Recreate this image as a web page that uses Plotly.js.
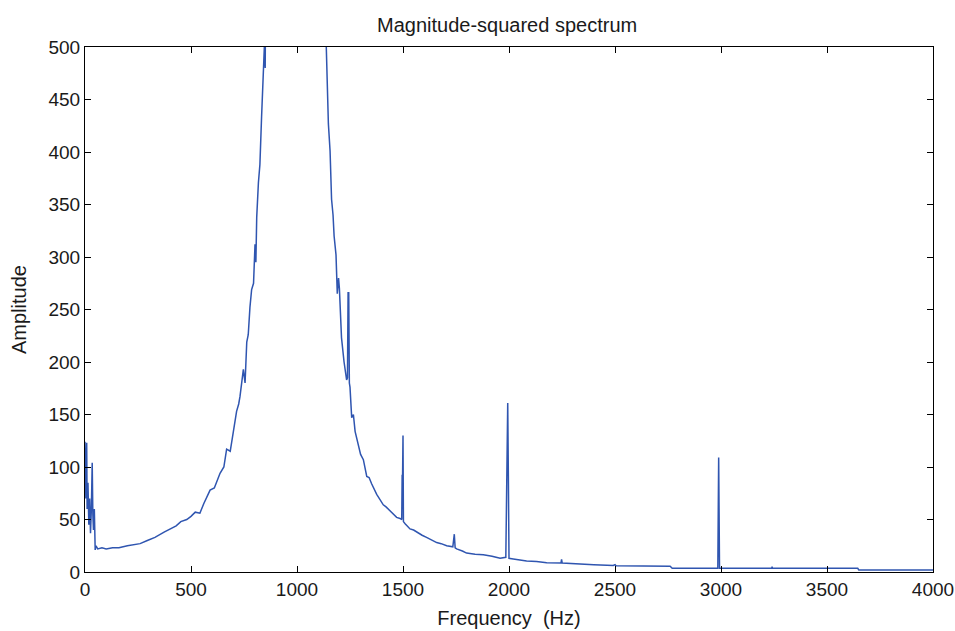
<!DOCTYPE html>
<html>
<head>
<meta charset="utf-8">
<script src="https://cdn.plot.ly/plotly-3.0.1.min.js"></script>
<style>html,body{margin:0;padding:0;background:#fff;}#chart{width:955px;height:631px;}</style>
</head>
<body>
<div id="chart"></div>
<script>
// Frequency (Hz) sample points
const freqHz = [0,4,8,10,14,18,22,26,30,34,37,40,44,48,52,60,80,100,130,160,200,230,260,294,330,373,400,430,452,480,500,520,542,560,590,610,637,655,668,685,700,715,725,731,747,755,763,770,778,786,795,802,806,810,818,825,833,841,846,850,855,880,920,960,1000,1040,1080,1110,1130,1137,1143,1148,1156,1163,1170,1175,1184,1190,1196,1200,1210,1216,1222,1234,1238,1241,1244,1247,1250,1258,1266,1274,1289,1300,1313,1329,1340,1352,1376,1390,1407,1420,1439,1455,1470,1486,1494,1496,1498,1500,1502,1510,1533,1550,1565,1590,1611,1640,1659,1680,1706,1735,1742,1746,1753,1780,1800,1840,1879,1920,1958,1985,1991,1994,1997,2000,2020,2050,2083,2130,2178,2245,2248,2251,2319,2400,2492,2500,2505,2580,2649,2700,2760,2770,2822,2985,2989,2993,3090,3239,3241,3243,3500,3645,3650,4000];
// Magnitude-squared amplitude at those points (values above 500 are off-chart estimates)
const amplitude = [124,70,123,60,85,45,70,37,60,104,55,40,60,21,25,22,23,22,23,23,25,26,27,30,33,38,41,44,48,50,53,57,56,65,78,80,94,100,117,115,134,153,160,167,193,180,219,226,252,269,275,312,295,338,371,388,434,477,500,480,560,700,1100,2500,6000,2500,1100,750,560,500,470,427,401,355,340,320,302,265,280,270,223,210,200,183,185,266,266,180,176,147,150,134,120,112,107,91,90,84,74,70,64,62,58,55,52,51,50,92,92,130,48,46,41,40,38,35,33,30,28,27,25,24,36,23,22,20,18,17,16.5,15,13,14,91,161,91,13,12.4,11.5,10.5,10,8.9,8.5,12,8.5,7.6,7,6.3,7,6,6,5.7,5.5,5.5,3.5,3.5,3.5,109,3.5,3.5,3.5,5,3.5,3.5,3.5,2,2];

const xTicks = [0,500,1000,1500,2000,2500,3000,3500,4000];
const yTicks = [0,50,100,150,200,250,300,350,400,450,500];

const fam = 'Liberation Sans, Arial, sans-serif';
const tickFont = {family: fam, size: 19, color: '#1a1a1a'};
const titleFont = {family: fam, size: 20, color: '#1a1a1a'};

const trace = {
  x: freqHz, y: amplitude, type: 'scatter', mode: 'lines',
  line: {color: '#2f55b0', width: 1.5}, hoverinfo: 'skip'
};

const axisCommon = {
  showline: true, linecolor: '#000', linewidth: 1, mirror: 'ticks',
  ticks: 'inside', ticklen: 6, tickcolor: '#000', tickwidth: 1,
  showgrid: false, zeroline: false, tickfont: tickFont, fixedrange: true
};

const layout = {
  width: 955, height: 631,
  margin: {l: 85, r: 22, t: 47, b: 59},
  paper_bgcolor: '#fff', plot_bgcolor: '#fff',
  showlegend: false,
  title: {text: 'Magnitude-squared spectrum', font: titleFont, x: 0.531, xanchor: 'center', y: 0.96, yanchor: 'middle', yref: 'container'},
  xaxis: Object.assign({}, axisCommon, {
    range: [0, 4000], tickvals: xTicks, ticktext: xTicks.map(String),
    title: {text: 'Frequency  (Hz)', font: titleFont, standoff: 12}
  }),
  yaxis: Object.assign({}, axisCommon, {
    range: [0, 500], tickvals: yTicks, ticktext: yTicks.map(String),
    ticklabelstandoff: 0,
    title: {text: 'Amplitude', font: titleFont, standoff: 16}
  })
};

Plotly.newPlot('chart', [trace], layout, {displayModeBar: false, staticPlot: true});
</script>
</body>
</html>
